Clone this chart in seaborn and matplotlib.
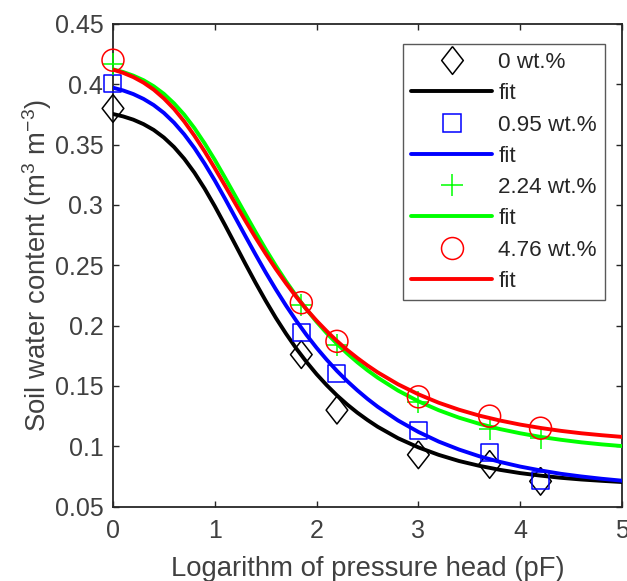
import numpy as np
import pandas as pd
import matplotlib
matplotlib.use("Agg")
import matplotlib.pyplot as plt
import seaborn as sns
from matplotlib.lines import Line2D

# measured points
pf = [0, 1.85, 2.2, 3.0, 3.7, 4.2]
theta_0 = [0.380, 0.176, 0.130, 0.093, 0.085, 0.071]
theta_095 = [0.401, 0.194, 0.160, 0.113, 0.095, 0.072]
theta_224 = [0.417, 0.217, 0.184, 0.137, 0.114, 0.107]
theta_476 = [0.420, 0.219, 0.187, 0.141, 0.125, 0.115]

# fitted curves (0.1 pF steps up to 2.6, then 0.2)
pf_fit = [0.0, 0.1, 0.2, 0.3, 0.4, 0.5, 0.6, 0.7, 0.8, 0.9, 1.0, 1.1, 1.2, 1.3,
          1.4, 1.5, 1.6, 1.7, 1.8, 1.9, 2.0, 2.1, 2.2, 2.3, 2.4, 2.5, 2.6,
          2.8, 3.0, 3.2, 3.4, 3.6, 3.8, 4.0, 4.2, 4.4, 4.6, 4.8, 5.0]
fit_0 = [0.3754, 0.3734, 0.3707, 0.367, 0.3622, 0.3559, 0.348, 0.3383, 0.3268,
         0.3136, 0.299, 0.2834, 0.2674, 0.2513, 0.2356, 0.2206, 0.2064, 0.1933,
         0.1811, 0.17, 0.1598, 0.1506, 0.1422, 0.1347, 0.1279, 0.1218, 0.1162,
         0.1067, 0.0991, 0.0929, 0.0878, 0.0838, 0.0805, 0.0778, 0.0757, 0.0739,
         0.0725, 0.0714, 0.0704]
fit_095 = [0.3972, 0.3949, 0.3919, 0.3879, 0.3828, 0.3763, 0.3682, 0.3585, 0.3472,
           0.3343, 0.3203, 0.3053, 0.2898, 0.2743, 0.259, 0.2441, 0.23, 0.2166,
           0.2041, 0.1924, 0.1816, 0.1717, 0.1625, 0.1541, 0.1464, 0.1393, 0.1328,
           0.1214, 0.1119, 0.1039, 0.0973, 0.0917, 0.0871, 0.0832, 0.08, 0.0772,
           0.075, 0.0731, 0.0715]
fit_224 = [0.4124, 0.4102, 0.4072, 0.4034, 0.3984, 0.3921, 0.3842, 0.3748, 0.3637,
           0.3511, 0.3374, 0.3227, 0.3077, 0.2926, 0.2777, 0.2633, 0.2496, 0.2367,
           0.2247, 0.2135, 0.2032, 0.1937, 0.185, 0.177, 0.1697, 0.163, 0.1569,
           0.1462, 0.1373, 0.1299, 0.1237, 0.1186, 0.1143, 0.1108, 0.1078, 0.1054,
           0.1033, 0.1016, 0.1002]
fit_476 = [0.4122, 0.4095, 0.406, 0.4014, 0.3956, 0.3883, 0.3796, 0.3692, 0.3574,
           0.3444, 0.3305, 0.3161, 0.3015, 0.287, 0.273, 0.2596, 0.2469, 0.235,
           0.2239, 0.2136, 0.2041, 0.1954, 0.1873, 0.1799, 0.1732, 0.167, 0.1613,
           0.1514, 0.1431, 0.1361, 0.1303, 0.1254, 0.1214, 0.118, 0.1152, 0.1128,
           0.1108, 0.1092, 0.1078]

labels = ["0 wt.%", "0.95 wt.%", "2.24 wt.%", "4.76 wt.%"]
colors = ["black", "#0000ff", "#00ff00", "#ff0000"]
diamond = [(0, 1), (0.78, 0), (0, -1), (-0.78, 0), (0, 1)]
markers = [diamond, "s", "+", "o"]
sizes = [400, 150, 260, 250]

sns.set_theme(style="ticks")
plt.rcParams["font.family"] = ["Liberation Sans", "DejaVu Sans"]
plt.rcParams["mathtext.default"] = "regular"

fig = plt.figure(figsize=(6.27, 5.81), dpi=100)
ax = fig.add_axes([0.1802, 0.128, 0.8118, 0.8307])

handles = []
z = 3
for lab, col, mk, s, th, fit in zip(labels, colors, markers, sizes,
                                    [theta_0, theta_095, theta_224, theta_476],
                                    [fit_0, fit_095, fit_224, fit_476]):
    pts = pd.DataFrame({"pf": pf, "theta": th})
    if mk == "+":
        sns.scatterplot(data=pts, x="pf", y="theta", marker=mk, s=s, color=col,
                        linewidth=1.1, ax=ax, zorder=z, clip_on=False)
    else:
        sns.scatterplot(data=pts, x="pf", y="theta", marker=mk, s=s,
                        facecolor="none", edgecolor=col, linewidth=1.1,
                        ax=ax, zorder=z, clip_on=False)
    crv = pd.DataFrame({"pf": pf_fit, "theta": fit})
    sns.lineplot(data=crv, x="pf", y="theta", color=col, lw=2.8, ax=ax,
                 zorder=z + 1)
    z += 2
    handles.append(Line2D([], [], ls="none", marker=mk, markersize=np.sqrt(s),
                          markerfacecolor="none", markeredgecolor=col,
                          color=col, markeredgewidth=1.1))
    handles.append(Line2D([], [], color=col, lw=2.8))

legend_labels = []
for lab in labels:
    legend_labels += [lab, "fit"]

ax.set_xlim(0, 5)
ax.set_ylim(0.05, 0.45)
ax.set_xticks([0, 1, 2, 3, 4, 5])
ax.set_xticklabels(["0", "1", "2", "3", "4", "5"])
yt = [0.05, 0.1, 0.15, 0.2, 0.25, 0.3, 0.35, 0.4, 0.45]
ax.set_yticks(yt)
ax.set_yticklabels(["0.05", "0.1", "0.15", "0.2", "0.25", "0.3", "0.35", "0.4", "0.45"])

for sp in ax.spines.values():
    sp.set_visible(True)
    sp.set_linewidth(1.3)
    sp.set_color("#262626")
ax.tick_params(axis="both", direction="in", top=True, right=True, length=4,
               width=1, color="#262626", labelsize=18, labelcolor="#404040")
ax.tick_params(axis="x", pad=9)
ax.tick_params(axis="y", pad=7)

ax.set_xlabel("Logarithm of pressure head (pF)", fontsize=19.8, color="#404040")
ax.set_ylabel("Soil water content (m$^3$ m$^{-3}$)", fontsize=19.8, color="#404040")
ax.xaxis.set_label_coords(0.5, -0.103)
ax.yaxis.set_label_coords(-0.115, 0.5)

leg = ax.legend(handles, legend_labels, loc="upper right",
                bbox_to_anchor=(0.9666, 0.9586), borderaxespad=0,
                fontsize=16.2, handlelength=3.6, handletextpad=0.27,
                borderpad=0.36, labelspacing=0.455, fancybox=False,
                framealpha=1, edgecolor="#595959")
leg.get_frame().set_linewidth(1.0)
leg.set_zorder(20)

fig.savefig("out.png", dpi=100)
